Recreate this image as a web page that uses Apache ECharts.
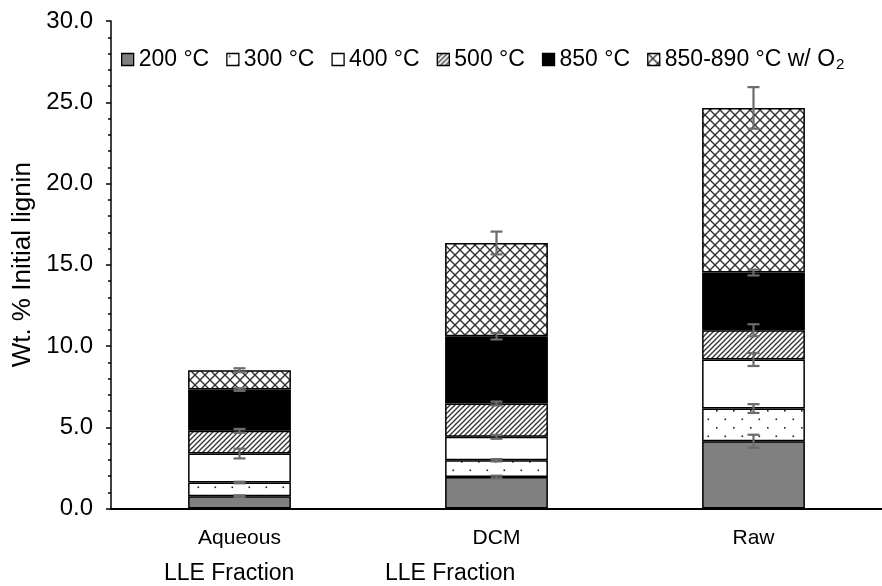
<!DOCTYPE html>
<html>
<head>
<meta charset="utf-8">
<script src="https://cdn.jsdelivr.net/npm/echarts@6/dist/echarts.min.js"></script>
<style>
  html, body { margin: 0; padding: 0; background: #fff; }
  #chart { width: 882px; height: 586px; }
</style>
</head>
<body>
<div id="chart"></div>
<script>
// Fractions of lignin recovered per temperature step (wt. % of initial lignin)
const categories = ['Aqueous', 'DCM', 'Raw'];
const seriesNames = ['200 °C', '300 °C', '400 °C', '500 °C', '850 °C', '850-890 °C w/ O2'];

const s200   = [0.76, 1.94, 4.14];
const s300   = [0.84, 1.03, 2.01];
const s400   = [1.78, 1.44, 3.02];
const s500   = [1.40, 2.05, 1.80];
const s850   = [2.54, 4.14, 3.55];
const s850O2 = [1.19, 5.74, 10.13];

// Standard deviations for each step
const e200   = [0.05, 0.08, 0.40];
const e300   = [0.05, 0.07, 0.27];
const e400   = [0.30, 0.12, 0.40];
const e500   = [0.12, 0.12, 0.37];
const e850   = [0.08, 0.20, 0.18];
const e850O2 = [0.12, 0.70, 1.28];

const yTicks = [0, 5, 10, 15, 20, 25, 30];

const values = [s200, s300, s400, s500, s850, s850O2];
const errors = [e200, e300, e400, e500, e850, e850O2];

// Fill patterns drawn on small tiles
function tile(w, h, draw) {
  const c = document.createElement('canvas');
  c.width = w; c.height = h;
  const ctx = c.getContext('2d');
  ctx.fillStyle = '#fff';
  ctx.fillRect(0, 0, w, h);
  draw(ctx, w, h);
  return { image: c, repeat: 'repeat' };
}
const dotFill = tile(17, 17, (ctx) => {
  ctx.fillStyle = '#222';
  ctx.fillRect(2, 2, 1.6, 1.6);
  ctx.fillRect(10.5, 10.5, 1.6, 1.6);
});
const diagFill = tile(5, 5, (ctx, w, h) => {
  ctx.strokeStyle = '#333';
  ctx.lineWidth = 1.3;
  for (let k = -1; k <= 1; k++) {
    ctx.beginPath();
    ctx.moveTo(k * w - 1, h + 1);
    ctx.lineTo(k * w + w + 1, -1);
    ctx.stroke();
  }
});
const crossFill = tile(10, 10, (ctx, w, h) => {
  ctx.strokeStyle = '#333';
  ctx.lineWidth = 1.4;
  for (let k = -1; k <= 1; k++) {
    ctx.beginPath();
    ctx.moveTo(k * w - 1, -1);
    ctx.lineTo(k * w + w + 1, h + 1);
    ctx.stroke();
    ctx.beginPath();
    ctx.moveTo(k * w - 1, h + 1);
    ctx.lineTo(k * w + w + 1, -1);
    ctx.stroke();
  }
});
const fills = ['#808080', dotFill, '#ffffff', diagFill, '#000000', crossFill];

const barSeries = seriesNames.map((name, i) => ({
  name: name,
  type: 'bar',
  stack: 'total',
  barWidth: '40%',
  data: values[i],
  itemStyle: { color: fills[i], borderColor: '#000', borderWidth: 1.5 },
  emphasis: { disabled: true }
}));

// Error bars sit on top of each stacked segment
const errData = [];
categories.forEach((c, ci) => {
  let cum = 0;
  values.forEach((arr, si) => {
    cum += arr[ci];
    errData.push([ci, cum, errors[si][ci]]);
  });
});

const errorSeries = {
  type: 'custom',
  silent: true,
  z: 10,
  data: errData,
  renderItem: (params, api) => {
    const xi = api.value(0), top = api.value(1), e = api.value(2);
    const p1 = api.coord([xi, top + e]);
    const p2 = api.coord([xi, top - e]);
    const half = 6;
    const st = { stroke: '#6b6b6b', lineWidth: 2.2 };
    return {
      type: 'group',
      children: [
        { type: 'line', shape: { x1: p1[0], y1: p1[1], x2: p2[0], y2: p2[1] }, style: st },
        { type: 'line', shape: { x1: p1[0] - half, y1: p1[1], x2: p1[0] + half, y2: p1[1] }, style: st },
        { type: 'line', shape: { x1: p2[0] - half, y1: p2[1], x2: p2[0] + half, y2: p2[1] }, style: st }
      ]
    };
  }
};

const chart = echarts.init(document.getElementById('chart'), null, { renderer: 'canvas' });
const font = 'Liberation Sans, Arial, sans-serif';

chart.setOption({
  animation: false,
  textStyle: { fontFamily: font, color: '#000' },
  grid: { left: 111, top: 21, width: 776, height: 487.5, containLabel: false },
  legend: {
    data: seriesNames,
    left: 116,
    top: 43,
    icon: 'rect',
    itemWidth: 12,
    itemHeight: 12,
    itemGap: 17,
    itemStyle: { borderColor: '#000', borderWidth: 1.3 },
    formatter: (name) => name.replace(/O2$/, 'O{sub|2}'),
    textStyle: {
      fontFamily: font, fontSize: 23, color: '#000',
      rich: { sub: { fontFamily: font, fontSize: 15, color: '#000', verticalAlign: 'bottom', padding: [11, 0, 0, 1] } }
    }
  },
  xAxis: {
    type: 'category',
    data: categories,
    axisTick: { show: false },
    axisLine: { lineStyle: { color: '#000', width: 2 } },
    axisLabel: { fontSize: 21, color: '#000', margin: 19, fontFamily: font }
  },
  yAxis: {
    type: 'value',
    min: yTicks[0],
    max: yTicks[yTicks.length - 1],
    interval: 5,
    name: 'Wt. % Initial lignin',
    nameLocation: 'middle',
    nameRotate: 90,
    nameGap: 65,
    nameTextStyle: { fontSize: 26, color: '#000', fontFamily: font },
    axisLine: { show: true, lineStyle: { color: '#000', width: 1.5 } },
    axisTick: { show: true, length: 5, lineStyle: { color: '#000', width: 1.5 } },
    minorTick: { show: true, splitNumber: 5, length: 3, lineStyle: { color: '#000', width: 1.5 } },
    splitLine: { show: false },
    axisLabel: { fontSize: 24, color: '#000', margin: 18, fontFamily: font, formatter: (v) => v.toFixed(1) }
  },
  graphic: [
    { type: 'text', left: 231 - 67, top: 562, style: { text: 'LLE Fraction', fontSize: 23, fontFamily: font, fill: '#000' } },
    { type: 'text', left: 452 - 67, top: 562, style: { text: 'LLE Fraction', fontSize: 23, fontFamily: font, fill: '#000' } }
  ],
  series: barSeries.concat([errorSeries])
});
</script>
</body>
</html>
